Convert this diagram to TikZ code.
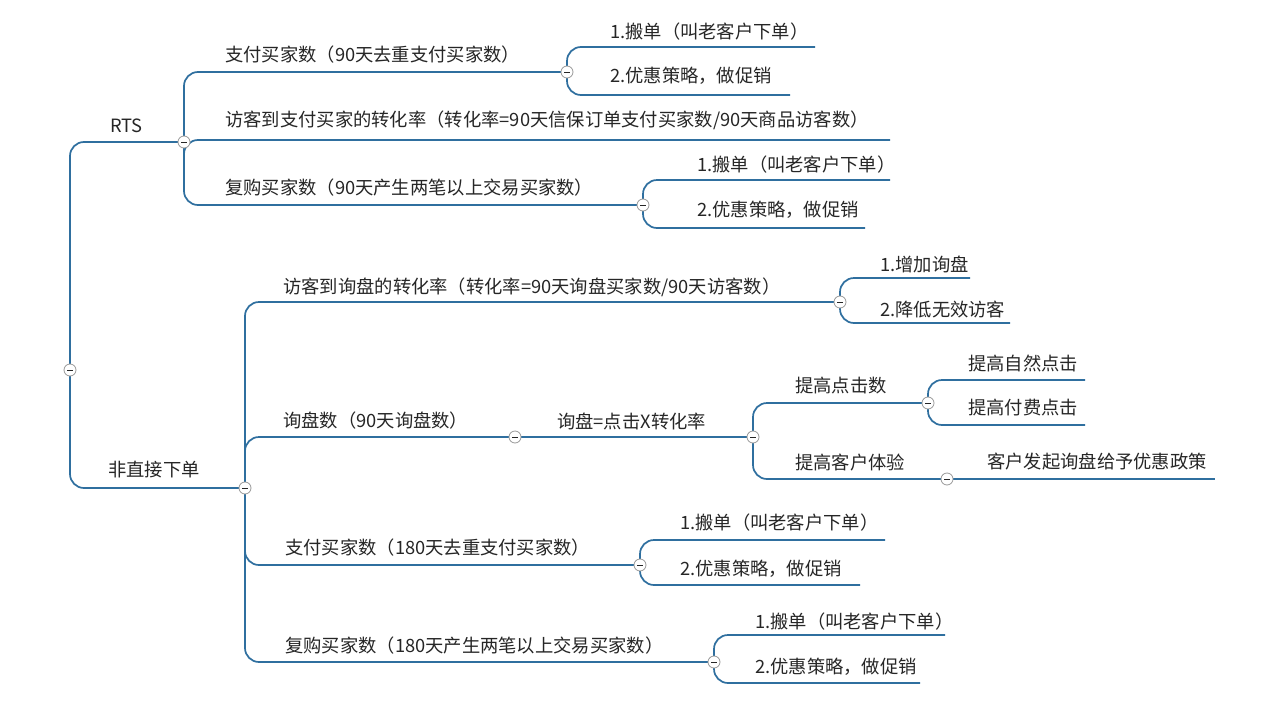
\documentclass[tikz,border=0pt]{standalone}
\usepackage{fontspec}
\setmainfont{Noto Sans CJK SC}
\usetikzlibrary{positioning}
\definecolor{branch}{HTML}{2F6F9F}
\tikzset{
  link/.style={draw=branch,line width=1.7pt,rounded corners=14pt},
  fold/.style={circle,draw=gray!80,fill=white,line width=0.8pt,inner sep=0pt,minimum size=12pt,
    path picture={\draw[gray!30!black,line width=0.9pt] ([xshift=-3pt]path picture bounding box.center) -- ([xshift=3pt]path picture bounding box.center);}},
  topic/.style={anchor=west,inner sep=0pt,font=\fontsize{18.3}{20}\selectfont,text=black!85}
}
\begin{document}
\begin{tikzpicture}[x=1pt,y=-1pt]
        \useasboundingbox[fill=white] (0,0) rectangle (1280,715);
        % Fold points.
        \coordinate (root) at (70,370);
        \coordinate (rts) at (184,142);
        \coordinate (pay) at (567,72);
        \coordinate (rep) at (643,205);
        \coordinate (ind) at (245,488);
        \coordinate (inq) at (840,302);
        \coordinate (num) at (515,437);
        \coordinate (clk) at (753,437);
        \coordinate (hit) at (928,403);
        \coordinate (exp) at (947,479);
        \coordinate (pay2) at (640,565);
        \coordinate (rep2) at (714,662);

        % Leaf ends.
        \coordinate (conv) at (890,140);
        \coordinate (pa1) at (815,47);
        \coordinate (pa2) at (790,95);
        \coordinate (re1) at (890,180);
        \coordinate (re2) at (865,228);
        \coordinate (in1) at (970,278);
        \coordinate (in2) at (1010,323);
        \coordinate (hi1) at (1085,380);
        \coordinate (hi2) at (1085,425);
        \coordinate (ex1) at (1215,479);
        \coordinate (pb1) at (885,540);
        \coordinate (pb2) at (860,585);
        \coordinate (rb1) at (945,635);
        \coordinate (rb2) at (920,683);

        % Branches.
        \draw[link] (root) |- (rts);
        \draw[link] (root) |- (ind);
        \draw[link] (rts) |- (pay);
        \draw[link] (rts) |- (conv);
        \draw[link] (rts) |- (rep);
        \draw[link] (pay) |- (pa1);
        \draw[link] (pay) |- (pa2);
        \draw[link] (rep) |- (re1);
        \draw[link] (rep) |- (re2);
        \draw[link] (ind) |- (inq);
        \draw[link] (ind) |- (num);
        \draw[link] (ind) |- (pay2);
        \draw[link] (ind) |- (rep2);
        \draw[link] (inq) |- (in1);
        \draw[link] (inq) |- (in2);
        \draw[link] (num) -- (clk);
        \draw[link] (clk) |- (hit);
        \draw[link] (clk) |- (exp);
        \draw[link] (hit) |- (hi1);
        \draw[link] (hit) |- (hi2);
        \draw[link] (exp) -- (ex1);
        \draw[link] (pay2) |- (pb1);
        \draw[link] (pay2) |- (pb2);
        \draw[link] (rep2) |- (rb1);
        \draw[link] (rep2) |- (rb2);

        \foreach \f in {root,rts,pay,rep,ind,inq,num,clk,hit,exp,pay2,rep2}
            \node[fold] at (\f) {};

        % Labels.
        \node[topic] (t-rts) at (110,126) {RTS};
        \node[topic] (t-pay) at (225,55) {支付买家数（90天去重支付买家数）};
        \node[topic] (t-pa1) at (610,32) {1.搬单（叫老客户下单）};
        \node[topic] (t-pa2) at (610,76) {2.优惠策略，做促销};
        \node[topic] (t-conv) at (225,120) {访客到支付买家的转化率（转化率=90天信保订单支付买家数/90天商品访客数）};
        \node[topic] (t-rep) at (225,188) {复购买家数（90天产生两笔以上交易买家数）};
        \node[topic] (t-re1) at (697,165) {1.搬单（叫老客户下单）};
        \node[topic] (t-re2) at (697,210) {2.优惠策略，做促销};
        \node[topic] (t-ind) at (108,470) {非直接下单};
        \node[topic] (t-inq) at (283,287) {访客到询盘的转化率（转化率=90天询盘买家数/90天访客数）};
        \node[topic] (t-in1) at (880,264) {1.增加询盘};
        \node[topic] (t-in2) at (880,309) {2.降低无效访客};
        \node[topic] (t-num) at (283,421) {询盘数（90天询盘数）};
        \node[topic] (t-clk) at (557,421) {询盘=点击X转化率};
        \node[topic] (t-hit) at (795,386) {提高点击数};
        \node[topic] (t-hi1) at (968,363) {提高自然点击};
        \node[topic] (t-hi2) at (968,408) {提高付费点击};
        \node[topic] (t-exp) at (795,463) {提高客户体验};
        \node[topic] (t-ex1) at (987,462) {客户发起询盘给予优惠政策};
        \node[topic] (t-pay2) at (285,548) {支付买家数（180天去重支付买家数）};
        \node[topic] (t-pb1) at (680,523) {1.搬单（叫老客户下单）};
        \node[topic] (t-pb2) at (680,569) {2.优惠策略，做促销};
        \node[topic] (t-rep2) at (285,646) {复购买家数（180天产生两笔以上交易买家数）};
        \node[topic] (t-rb1) at (755,622) {1.搬单（叫老客户下单）};
        \node[topic] (t-rb2) at (755,667) {2.优惠策略，做促销};
    \end{tikzpicture}
\end{document}
